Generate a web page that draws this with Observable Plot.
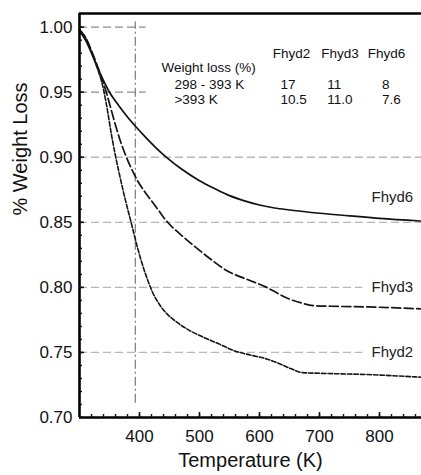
<!DOCTYPE html>
<html><head><meta charset="utf-8">
<script src="https://cdn.jsdelivr.net/npm/d3@7"></script>
<script src="https://cdn.jsdelivr.net/npm/@observablehq/plot@0.6"></script>
<style>body{margin:0;background:#fff}svg{display:block}</style>
</head><body><div id="chart"></div>
<script>
// Temperature (K), fraction of initial weight
const fhyd6 = [[300,0.997],[310,0.990],[320,0.980],[330,0.969],[340,0.959],[350,0.950],[365,0.940],[380,0.931],[394,0.9235],[410,0.9155],[427,0.9075],[445,0.900],[470,0.891],[500,0.882],[525,0.876],[550,0.8705],[575,0.8665],[600,0.8633],[625,0.861],[650,0.8595],[700,0.857],[750,0.855],[800,0.853],[868,0.851]];
const fhyd3 = [[300,0.998],[310,0.992],[320,0.982],[330,0.970],[337,0.961],[344,0.951],[352,0.938],[361,0.923],[370,0.910],[380,0.898],[389,0.889],[398,0.881],[408,0.874],[420,0.8665],[432,0.859],[445,0.851],[465,0.842],[488,0.833],[515,0.823],[545,0.813],[580,0.806],[612,0.800],[630,0.7955],[650,0.791],[670,0.788],[690,0.786],[720,0.7855],[780,0.785],[868,0.7835]];
const fhyd2 = [[300,0.998],[310,0.992],[320,0.981],[330,0.968],[337,0.958],[341,0.950],[347,0.935],[353,0.918],[360,0.901],[367,0.886],[376,0.868],[386,0.850],[397,0.830],[408,0.813],[415,0.804],[421,0.797],[433,0.787],[445,0.780],[460,0.774],[483,0.767],[505,0.762],[530,0.757],[560,0.751],[585,0.748],[612,0.745],[635,0.741],[655,0.737],[672,0.7345],[700,0.734],[780,0.733],[868,0.731]];

const seriesNames = ["Fhyd2", "Fhyd3", "Fhyd6"];
const loss298to393 = ["17", "11", "8"];
const lossAbove393 = ["10.5", "11.0", "7.6"];
const tableTitle = "Weight loss (%)";
const rowLabels = ["298 - 393 K", ">393 K"];

const xTicks = [400, 500, 600, 700, 800];
const yTicks = [0.70, 0.75, 0.80, 0.85, 0.90, 0.95, 1.00];
const xDomain = [300, 870];
const yDomain = [0.70, 1.0105];
const markerT = 393;

// annotation layout (data coordinates)
const gridSpec = [
  {y: 1.00, x2: 411, c: "#8c8c8c"},
  {y: 0.95, x2: 411, c: "#8c8c8c"},
  {y: 0.90, x2: 870, c: "#b8b8b8"},
  {y: 0.85, x2: 870, c: "#b8b8b8"},
  {y: 0.80, x2: 772, c: "#b8b8b8"},
  {y: 0.75, x2: 772, c: "#b8b8b8"}
];
const curveLabels = [
  {name: "Fhyd6", y: 0.869},
  {name: "Fhyd3", y: 0.800},
  {name: "Fhyd2", y: 0.7504}
];
const labelX = 786.7;
const headerX = [622, 703, 780.5];
const valueX = [635, 713, 804];
const rowY = {header: 0.9799, title: 0.9692, r1: 0.9561, r2: 0.9446};

const xMinor = d3.range(320, 870, 20);
const yMinor = d3.range(71, 101).map(d => d / 100);

const toRows = (arr, name) => arr.map(([t, v]) => ({t, v, name}));

const tableCells = [
  ...seriesNames.map((s, i) => ({x: headerX[i], y: rowY.header, text: s})),
  ...loss298to393.map((s, i) => ({x: valueX[i], y: rowY.r1, text: s})),
  ...lossAbove393.map((s, i) => ({x: valueX[i], y: rowY.r2, text: s})),
  {x: 436.7, y: rowY.title, text: tableTitle},
  {x: 458.3, y: rowY.r1, text: rowLabels[0]},
  {x: 458.3, y: rowY.r2, text: rowLabels[1]}
];

const chart = Plot.plot({
  width: 421,
  height: 475,
  marginLeft: 79,
  marginRight: 0,
  marginTop: 13,
  marginBottom: 58,
  style: {fontFamily: "'Liberation Sans', Arial, sans-serif", fontSize: "17px", color: "#111", background: "#fff"},
  x: {domain: xDomain, axis: null},
  y: {domain: yDomain, axis: null},
  marks: [
    Plot.ruleY(gridSpec, {y: "y", x1: xDomain[0], x2: "x2", stroke: "c", strokeWidth: 1.3, strokeDasharray: "8,4"}),
    Plot.ruleX([markerT], {y1: 0.711, y2: 1.004, stroke: "#7a7a7a", strokeWidth: 1.2, strokeDasharray: "9,3,2,3"}),
    Plot.line(toRows(fhyd6, "Fhyd6"), {x: "t", y: "v", stroke: "#111", strokeWidth: 1.7, curve: "monotone-x"}),
    Plot.line(toRows(fhyd3, "Fhyd3"), {x: "t", y: "v", stroke: "#151515", strokeWidth: 1.7, strokeDasharray: "9,3.5", curve: "monotone-x"}),
    Plot.line(toRows(fhyd2, "Fhyd2"), {x: "t", y: "v", stroke: "#151515", strokeWidth: 1.6, strokeDasharray: "4.5,2", curve: "monotone-x"}),
    Plot.text(curveLabels, {x: labelX, y: "y", text: "name", textAnchor: "start", fontSize: 15, fill: "#222"}),
    Plot.text(tableCells, {x: "x", y: "y", text: "text", textAnchor: "start", fontSize: 13.5, fill: "#111"}),
    // frame lines
    Plot.ruleX([xDomain[0]], {stroke: "#000", strokeWidth: 2.6}),
    Plot.ruleY([yDomain[0]], {stroke: "#000", strokeWidth: 2.6}),
    Plot.ruleY([yDomain[1]], {stroke: "#000", strokeWidth: 2.6}),
    // inward ticks
    Plot.axisY(yMinor, {anchor: "left", tickSize: 3, dx: 3, tickFormat: () => "", label: null, strokeWidth: 1.4}),
    Plot.axisY(yTicks, {anchor: "left", tickSize: 5, dx: 5, tickFormat: () => "", label: null, strokeWidth: 1.6}),
    Plot.axisX(xMinor, {anchor: "bottom", tickSize: 3, dy: -3, tickFormat: () => "", label: null, strokeWidth: 1.4}),
    Plot.axisX(xTicks, {anchor: "bottom", tickSize: 5, dy: -5, tickFormat: () => "", label: null, strokeWidth: 1.6}),
    // tick labels
    Plot.axisY(yTicks, {anchor: "left", tickSize: 0, tickPadding: 7, tickFormat: d3.format(".2f"), label: null, fontSize: 17}),
    Plot.axisX(xTicks, {anchor: "bottom", tickSize: 0, tickPadding: 12, tickFormat: d => String(d), label: null, fontSize: 17}),
    // axis titles
    Plot.text(["Temperature (K)"], {frameAnchor: "bottom", dy: 49, fontSize: 20, fill: "#111"}),
    Plot.text(["% Weight Loss"], {frameAnchor: "left", dx: -58.5, rotate: -90, fontSize: 20, fill: "#111"})
  ]
});
document.getElementById("chart").appendChild(chart);
</script>
</body></html>
